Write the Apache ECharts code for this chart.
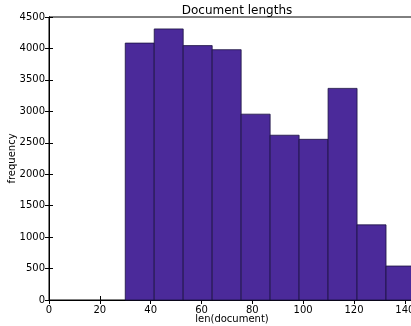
<!DOCTYPE html>
<html>
<head>
<meta charset="utf-8">
<script src="https://cdn.jsdelivr.net/npm/echarts@6/dist/echarts.min.js"></script>
<style>
  html, body { margin: 0; padding: 0; background: #fff; }
  #main { width: 411px; height: 326px; }
</style>
</head>
<body>
<div id="main"></div>
<script>
// histogram bins
var binStarts = [30, 41.4, 52.8, 64.2, 75.6, 87, 98.4, 109.8, 121.2, 132.6];
var binEnds   = [41.4, 52.8, 64.2, 75.6, 87, 98.4, 109.8, 121.2, 132.6, 144];
var counts    = [4085, 4310, 4045, 3980, 2955, 2620, 2555, 3365, 1195, 540];
var xTicks = [0, 20, 40, 60, 80, 100, 120, 140];

var barColor = '#4b2a9a';
var font = 'DejaVu Sans';

var histData = [];
for (var i = 0; i < counts.length; i++) {
    histData.push([binStarts[i], binEnds[i], counts[i]]);
}

function renderBin(params, api) {
    var p0 = api.coord([api.value(0), api.value(2)]);
    var p1 = api.coord([api.value(1), 0]);
    return {
        type: 'rect',
        shape: {x: p0[0], y: p0[1], width: p1[0] - p0[0], height: p1[1] - p0[1]},
        style: {fill: barColor, stroke: '#1a1240', lineWidth: 0.8}
    };
}

function plain(v) { return String(v); }

var tickIn = {show: true, inside: true, length: 4, lineStyle: {color: '#000', width: 1}};

var chart = echarts.init(document.getElementById('main'));
chart.setOption({
    backgroundColor: '#fff',
    animation: false,
    title: {
        text: 'Document lengths',
        left: 232, top: 0, textAlign: 'center',
        textStyle: {fontFamily: font, fontSize: 12, fontWeight: 'normal', color: '#000'}
    },
    grid: {
        left: 49, right: -4, top: 17, bottom: 26,
        containLabel: false, outerBoundsMode: 'none',
        show: true, borderColor: '#000', borderWidth: 1
    },
    xAxis: [{
        type: 'value', min: 0, max: 144,
        name: 'len(document)', nameLocation: 'middle', nameGap: 14, nameMoveOverlap: false,
        nameTextStyle: {fontFamily: font, fontSize: 10, color: '#000'},
        axisLine: {show: true, lineStyle: {color: '#000'}},
        axisTick: Object.assign({customValues: xTicks}, tickIn),
        axisLabel: {customValues: xTicks, formatter: plain, fontFamily: font, fontSize: 10, color: '#000', margin: 5},
        splitLine: {show: false}
    }, {
        type: 'value', min: 0, max: 144, position: 'top',
        axisLine: {show: true, lineStyle: {color: '#000'}},
        axisTick: Object.assign({customValues: xTicks}, tickIn),
        axisLabel: {show: false},
        splitLine: {show: false}
    }],
    yAxis: [{
        type: 'value', min: 0, max: 4500, interval: 500,
        name: 'frequency', nameLocation: 'middle', nameGap: 32, nameMoveOverlap: false,
        nameTextStyle: {fontFamily: font, fontSize: 10, color: '#000'},
        axisLine: {show: true, lineStyle: {color: '#000'}},
        axisTick: tickIn,
        axisLabel: {formatter: plain, fontFamily: font, fontSize: 10, color: '#000', margin: 4},
        splitLine: {show: false}
    }, {
        type: 'value', min: 0, max: 4500, interval: 500, position: 'right',
        axisLine: {show: true, lineStyle: {color: '#000'}},
        axisTick: tickIn,
        axisLabel: {show: false},
        splitLine: {show: false}
    }],
    series: [{
        type: 'custom',
        renderItem: renderBin,
        encode: {x: [0, 1], y: 2},
        data: histData
    }]
});
</script>
</body>
</html>
